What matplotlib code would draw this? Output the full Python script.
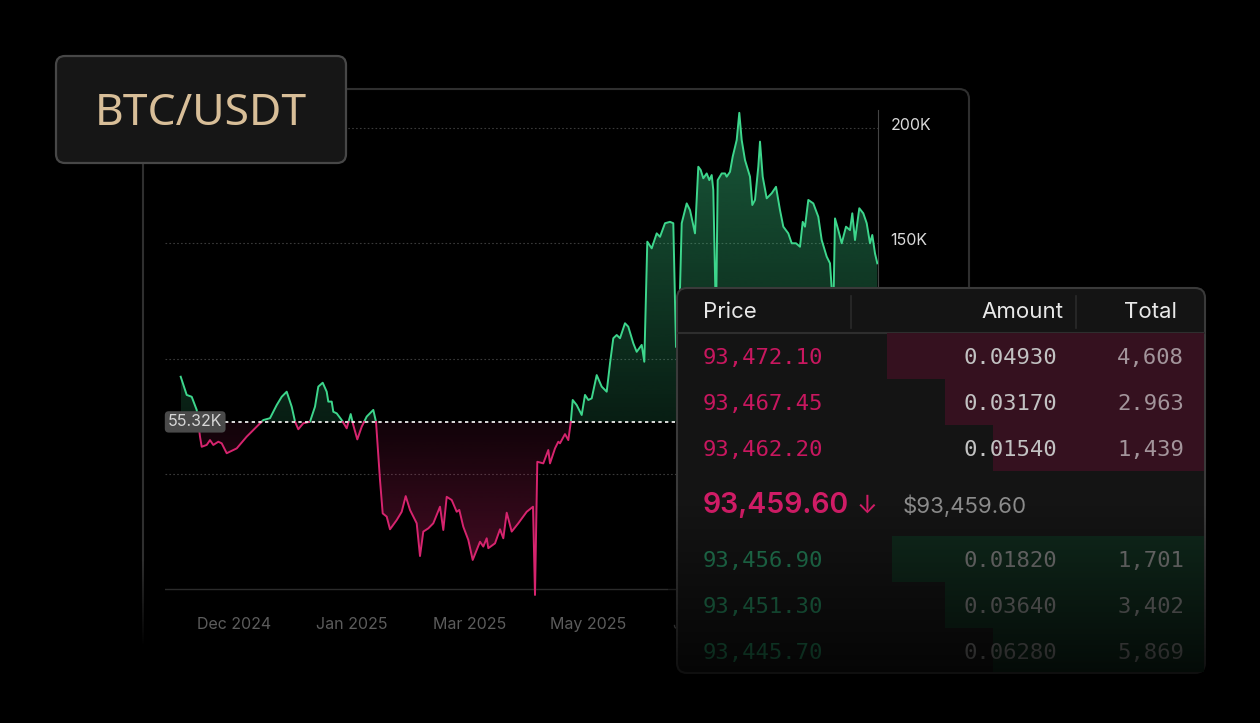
import matplotlib
matplotlib.use("Agg")
import matplotlib.pyplot as plt
import numpy as np
from matplotlib.patches import FancyBboxPatch, Rectangle
from matplotlib.path import Path
from matplotlib.colors import to_rgb
from matplotlib.transforms import ScaledTranslation

plt.rcParams["font.family"] = ["Inter", "DejaVu Sans"]

# ---- price trace (t = time step, price in K USDT) ----
t = np.array([
    15.7, 21.7, 26.7, 31.7, 35, 36.7, 41.7, 45, 48.3, 53.3,
    56.7, 61.7, 71.7, 81.7, 91.7, 98.3, 105, 111.7, 116.7, 121.7,
    126.7, 130, 133.3, 138.3, 145, 150, 153.3, 157.7, 161.7, 163.3,
    166.7, 168.3, 171.7, 176.7, 181.7, 185.7, 188.3, 192.3, 196.7, 201.7,
    208.3, 211, 215, 217.7, 221.7, 225, 231.7, 236.7, 240.7, 245,
    251.7, 255, 258.3, 263.3, 268.3, 275, 278.3, 281.7, 286.7, 291.7,
    294.3, 298.3, 303.3, 307.7, 311.7, 315, 318.3, 321.7, 323.3, 330,
    335, 338.3, 341.7, 346.7, 353.3, 361.7, 368, 370, 372.3, 378.3,
    383.3, 385, 390, 393.3, 395, 400, 403.3, 405.7, 407.7, 411.7,
    416.7, 420, 423.3, 426.7, 431.7, 436.7, 441.7, 445, 448.3, 451.7,
    455, 460, 463.3, 468.3, 471.7, 476.7, 479.3, 482.3, 486.7, 491.7,
    495, 500, 505, 508.3, 511, 513.5, 516.7, 521.7, 525, 530,
    533.3, 535.7, 538.3, 541.7, 544.3, 546.7, 548.3, 551, 552.7, 556.7,
    560, 561.7, 565, 567.7, 571.7, 574.3, 576.7, 580, 585, 587.3,
    590, 593.3, 595, 597.7, 601.7, 606.7, 611, 615, 618.3, 623.3,
    626.7, 631, 635, 637.7, 640, 643.3, 648.3, 653.3, 656.7, 661.7,
    665, 668.3, 670, 673.3, 676.7, 681, 685, 687.3, 690, 694.3,
    698.3, 701.7, 705, 707.3, 710, 712.3,
])
price = np.array([
    92.1, 84.2, 83.4, 77.7, 66.1, 61.7, 62.5, 64.6, 62.5, 63.9,
    63.2, 58.9, 61.0, 66.1, 70.4, 73.3, 74.1, 79.8, 83.4, 85.6,
    79.1, 72.6, 69.3, 71.9, 72.6, 79.1, 87.8, 89.5, 85.6, 81.3,
    81.3, 76.9, 76.2, 73.3, 69.7, 75.9, 71.1, 64.9, 70.4, 74.8,
    77.7, 72.6, 47.3, 32.8, 31.4, 25.9, 29.9, 33.5, 40.3, 34.3,
    28.5, 14.3, 24.9, 26.3, 28.5, 35.7, 25.6, 40.0, 38.6, 33.5,
    34.3, 27.0, 21.3, 12.6, 16.9, 20.5, 18.4, 22.0, 17.7, 19.8,
    25.9, 22.0, 33.1, 24.9, 28.5, 33.5, 35.7, -2.6, 55.2, 54.5,
    60.3, 54.5, 61.0, 63.9, 63.2, 67.2, 64.6, 71.9, 82.0, 79.8,
    75.5, 84.2, 82.0, 82.7, 92.8, 87.8, 85.6, 97.9, 108.8, 110.2,
    108.8, 115.3, 113.8, 106.6, 102.9, 105.9, 98.6, 150.7, 147.8, 154.3,
    152.8, 158.7, 159.3, 158.7, 105, 105, 158.7, 167.3, 164.4, 154.3,
    183.2, 181.8, 178.2, 180.3, 177.4, 179.6, 173.1, 115, 177.4, 180.3,
    180.3, 178.9, 181.0, 187.6, 194.8, 206.6, 194.8, 186.1, 178.9, 166.6,
    168.8, 183.2, 194.1, 178.9, 169.5, 171.7, 174.5, 164.4, 157.2, 154.3,
    150.0, 150.0, 148.5, 159.3, 157.2, 168.8, 167.3, 161.5, 151.4, 144.2,
    141.3, 120, 160.8, 155.7, 150.0, 157.2, 155.7, 163.0, 151.4, 165.2,
    163.0, 158.7, 150.0, 153.6, 145.6, 141.3,
])
base_price = 72.5
base_label = "55.32K"

x_ticks = [69, 187, 305, 423, 541]
x_labels = ["Dec 2024", "Jan 2025", "Mar 2025", "May 2025", "Jul 2025"]
y_ticks = [50, 100, 150, 200]

# ---- order book ----
ask_price = ["93,472.10", "93,467.45", "93,462.20"]
ask_amount = ["0.04930", "0.03170", "0.01540"]
ask_total = ["4,608", "2.963", "1,439"]
ask_depth = [0.60, 0.49, 0.40]
bid_price = ["93,456.90", "93,451.30", "93,445.70"]
bid_amount = ["0.01820", "0.03640", "0.06280"]
bid_total = ["1,701", "3,402", "5,869"]
bid_depth = [0.59, 0.49, 0.40]
last_price = "93,459.60"
last_usd = "$93,459.60"

GREEN = "#3dd68c"
RED = "#d6246e"
W, H = 1260, 723

fig = plt.figure(figsize=(12.6, 7.23), dpi=100, facecolor="black")


def vfade(axis, x0, x1, y0, y1, a0, a1, z):
    img = np.zeros((200, 1, 4))
    img[:, 0, 3] = np.clip(np.linspace(a0, a1, 200), 0, 1)
    axis.imshow(img, extent=(x0, x1, y1, y0), origin="upper", aspect="auto",
                zorder=z, interpolation="bilinear")


# background layer: chart card
bg = fig.add_axes([0, 0, 1, 1], zorder=0)
bg.add_patch(FancyBboxPatch((143, 89), 826, 626, boxstyle="round,pad=0,rounding_size=10",
                            fc="black", ec="#2f2f2f", lw=1.5))
vfade(bg, 120, 990, 560, 723, 0, 1.9, 3)
bg.set_xlim(0, W)
bg.set_ylim(H, 0)
bg.axis("off")

# chart
ax = fig.add_axes([165 / W, (H - 595.9) / H, 713 / W, 486.3 / H], zorder=1)
ax.patch.set_alpha(0)


def split_at(x, y, b):
    xs, ys = [x[0]], [y[0]]
    for i in range(1, len(x)):
        if (y[i - 1] - b) * (y[i] - b) < 0:
            f = (b - y[i - 1]) / (y[i] - y[i - 1])
            xs.append(x[i - 1] + f * (x[i] - x[i - 1]))
            ys.append(b)
        xs.append(x[i])
        ys.append(y[i])
    return np.array(xs), np.array(ys)


tt, yy = split_at(t, price, base_price)


def gradient_fill(above, color, a_base, a_far, far):
    mask = yy >= base_price if above else yy <= base_price
    coll = ax.fill_between(tt, yy, base_price, where=mask, lw=0)
    path = Path.make_compound_path(*coll.get_paths())
    coll.remove()
    img = np.zeros((256, 1, 4))
    img[..., :3] = to_rgb(color)
    if above:
        lo, hi = base_price, far
        img[:, 0, 3] = np.linspace(a_base, a_far, 256)
    else:
        lo, hi = far, base_price
        img[:, 0, 3] = np.linspace(a_far, a_base, 256)
    im = ax.imshow(img, extent=(tt[0], tt[-1], lo, hi), origin="lower", aspect="auto",
                   zorder=2, interpolation="bilinear")
    im.set_clip_path(path, transform=ax.transData)


gradient_fill(True, GREEN, 0.14, 0.42, 208)
gradient_fill(False, RED, 0.08, 0.36, -3)

ax.plot(tt, np.where(yy >= base_price, yy, np.nan), color=GREEN, lw=1.4, zorder=4)
ax.plot(tt, np.where(yy <= base_price, yy, np.nan), color=RED, lw=1.4, zorder=4)

ax.axhline(0, color="#2b2b2b", lw=1, zorder=1)
ax.axhline(base_price, color="white", lw=1.2, ls=(0, (2, 2)), zorder=5)
ax.text(3, base_price, base_label, ha="left", va="center", fontsize=11.5, color="#d6d6d6",
        bbox=dict(boxstyle="round,pad=0.2,rounding_size=0.25", fc="#4a4a4a", ec="none"),
        zorder=6)

ax.set_xlim(0, 713)
ax.set_ylim(-3, 208)
ax.yaxis.tick_right()
ax.set_yticks(y_ticks, [f"{v}K" for v in y_ticks])
ax.set_xticks(x_ticks, x_labels)
ax.tick_params(axis="y", length=0, pad=9, labelsize=11.5, labelcolor="#d9d9d9")
ax.tick_params(axis="x", length=0, pad=15, labelsize=11.5, labelcolor="#5c5c5c")
for lbl in ax.get_yticklabels():
    lbl.set_transform(lbl.get_transform() + ScaledTranslation(0, 4 / 100, fig.dpi_scale_trans))
ax.grid(axis="y", color="#3a3a3a", lw=0.8, ls=(0, (1.5, 2)))
for side in ["left", "top", "bottom"]:
    ax.spines[side].set_visible(False)
ax.spines["right"].set_color("#444444")

# overlay layer: title badge and order book
ov = fig.add_axes([0, 0, 1, 1], zorder=2)
ov.add_patch(FancyBboxPatch((56, 56), 290, 107, boxstyle="round,pad=0,rounding_size=9",
                            fc="#161616", ec="#474747", lw=1.6))
ov.text(201, 125, "BTC/USDT", ha="center", va="baseline", fontsize=32, color="#d8be98",
        family=["Noto Sans", "DejaVu Sans"])

px0, px1, py0, py1 = 677, 1205, 288, 673
ov.add_patch(FancyBboxPatch((px0, py0), px1 - px0, py1 - py0,
                            boxstyle="round,pad=0,rounding_size=10",
                            fc="#141414", ec="#3a3a3a", lw=1.5, zorder=1))
ov.plot([px0 + 1, px1 - 1], [333, 333], color="#2e2e2e", lw=1.5, zorder=2)
for sx in [851, 1076]:
    ov.plot([sx, sx], [296, 328], color="#2a2a2a", lw=1.2, zorder=2)

head_kw = dict(fontsize=16, color="#e8e8e8", va="baseline", zorder=4)
ov.text(703, 318, "Price", ha="left", **head_kw)
ov.text(1063, 318, "Amount", ha="right", **head_kw)
ov.text(1177, 318, "Total", ha="right", **head_kw)

mono = dict(fontsize=16, family="DejaVu Sans Mono", va="baseline", zorder=4)
row_h = 46
for i in range(3):
    top = 333 + i * row_h
    bw = ask_depth[i] * (px1 - px0)
    ov.add_patch(Rectangle((px1 - 1 - bw, top), bw, row_h, fc="#35111f", ec="none", zorder=2))
    yb = top + row_h / 2 + 8
    ov.text(703, yb, ask_price[i], ha="left", color="#c8175f", **mono)
    ov.text(1057, yb, ask_amount[i], ha="right", color="#c2c2c2", **mono)
    ov.text(1184, yb, ask_total[i], ha="right", color="#a3959b", **mono)

ov.text(703, 513, last_price, ha="left", va="baseline", fontsize=20.5, color="#d01c66",
        weight="semibold", zorder=4)
ov.text(857, 513, "\u2193", ha="left", va="baseline", fontsize=18, color="#d01c66", zorder=4)
ov.text(903, 513, last_usd, ha="left", va="baseline", fontsize=16, color="#8c8c8c", zorder=4)

for i in range(3):
    top = 536 + i * row_h
    bw = bid_depth[i] * (px1 - px0)
    ov.add_patch(Rectangle((px1 - 1 - bw, top), bw, row_h if i < 2 else row_h - 2,
                           fc="#10291c", ec="none", zorder=2))
    yb = top + row_h / 2 + 8
    ov.text(703, yb, bid_price[i], ha="left", color="#237e56", **mono)
    ov.text(1057, yb, bid_amount[i], ha="right", color="#7a7a7a", **mono)
    ov.text(1184, yb, bid_total[i], ha="right", color="#7a7a7a", **mono)

vfade(ov, 668, 1215, 505, 723, 0, 0.95, 6)
ov.set_xlim(0, W)
ov.set_ylim(H, 0)
ov.axis("off")

fig.savefig("out.png", dpi=100, facecolor="black")
